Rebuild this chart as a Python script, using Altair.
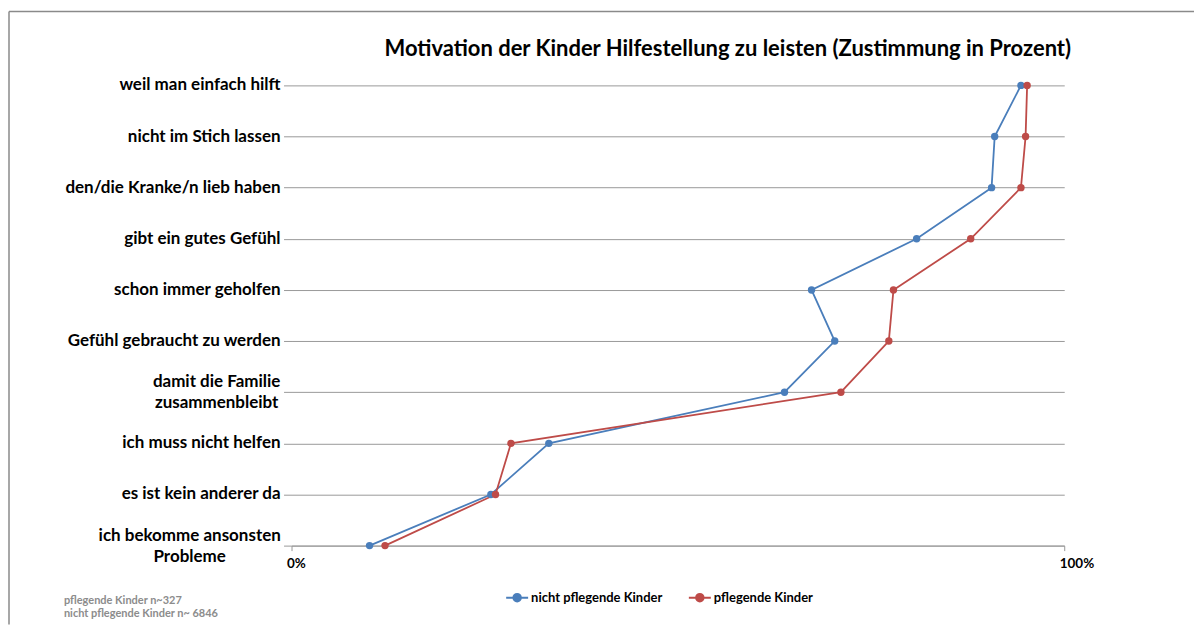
import altair as alt
import pandas as pd

title_text = "Motivation der Kinder Hilfestellung zu leisten (Zustimmung in Prozent)"
categories = [
    "weil man einfach hilft",
    "nicht im Stich lassen",
    "den/die Kranke/n lieb haben",
    "gibt ein gutes Gefühl",
    "schon immer geholfen",
    "Gefühl gebraucht zu werden",
    "damit die Familie zusammenbleibt",
    "ich muss nicht helfen",
    "es ist kein anderer da",
    "ich bekomme ansonsten Probleme",
]
label_lines = [
    "weil man einfach hilft",
    "nicht im Stich lassen",
    "den/die Kranke/n lieb haben",
    "gibt ein gutes Gefühl",
    "schon immer geholfen",
    "Gefühl gebraucht zu werden",
    "damit die Familie\nzusammenbleibt",
    "ich muss nicht helfen",
    "es ist kein anderer da",
    "ich bekomme ansonsten\nProbleme",
]
series_names = ["nicht pflegende Kinder", "pflegende Kinder"]
nicht_pflegende = [94.4, 91.0, 90.6, 80.9, 67.3, 70.3, 63.8, 33.3, 25.8, 10.1]
pflegende = [95.2, 95.0, 94.4, 87.9, 77.9, 77.3, 71.1, 28.4, 26.4, 12.1]
x_ticks = [0, 100]
footnote_lines = ["pflegende Kinder n~327", "nicht pflegende Kinder n~ 6846"]
colors = ["#4A7EBB", "#BE4B48"]

rows = []
for i, c in enumerate(categories):
    rows.append({"category": c, "series": series_names[0], "value": nicht_pflegende[i], "idx": i})
    rows.append({"category": c, "series": series_names[1], "value": pflegende[i], "idx": i})
df = pd.DataFrame(rows)
labels_df = pd.DataFrame({"category": categories, "label": label_lines})

FONT = "Lato"
W, H = 774, 461
LABEL_SIZE = 17

y_enc = alt.Y(
    "category:N",
    sort=categories,
    scale=alt.Scale(padding=0),
    axis=alt.Axis(
        title=None, labels=False, domain=False, ticks=True, tickSize=8,
        tickColor="#999999", grid=True, gridColor="#999999", gridWidth=1,
    ),
)
x_enc = alt.X(
    "value:Q",
    scale=alt.Scale(domain=[0, 100], nice=False),
    axis=alt.Axis(
        title=None, values=x_ticks, labelExpr="datum.value + '%'", grid=False,
        domainColor="#999999", tickColor="#999999", tickSize=5,
        labelFont=FONT, labelFontSize=13.5, labelFontWeight="bold", labelColor="#000000",
        labelAlign="left", labelOffset=-5, labelPadding=6, labelFlush=False,
    ),
)
symbol_path = "M-1,0L1,0M0.34,0A0.34,0.34,0,1,1,-0.34,0A0.34,0.34,0,1,1,0.34,0Z"
color_enc = alt.Color(
    "series:N",
    scale=alt.Scale(domain=series_names, range=colors),
    legend=alt.Legend(
        title=None, orient="none", legendX=214, legendY=501, direction="horizontal",
        symbolType=symbol_path, symbolSize=484, symbolStrokeWidth=2,
        labelFont=FONT, labelFontSize=13, labelFontWeight="bold", labelColor="#000000",
        labelOffset=2, columnPadding=22,
    ),
)

base = alt.Chart(df)
lines = base.mark_line(strokeWidth=1.8).encode(
    x=x_enc, y=y_enc, color=color_enc, order=alt.Order("idx:Q")
)
points = base.mark_point(filled=True, size=55, opacity=1).encode(
    x=x_enc, y=y_enc, color=color_enc
)

lab_base = alt.Chart(labels_df).transform_calculate(
    lines="split(datum.label, '\\n')", n="length(split(datum.label, '\\n'))"
)
single_labels = lab_base.transform_filter("datum.n == 1").mark_text(
    align="right", baseline="middle", font=FONT, fontSize=LABEL_SIZE, fontWeight="bold",
    color="#000000"
).encode(y=alt.Y("category:N", sort=categories), x=alt.value(-11), text="label:N")


def multi_label(cat, center_x):
    return lab_base.transform_filter(alt.datum.category == cat).mark_text(
        align="center", baseline="middle", font=FONT, fontSize=LABEL_SIZE, fontWeight="bold",
        color="#000000", lineHeight=21, dy=-10
    ).encode(y=alt.Y("category:N", sort=categories), x=alt.value(center_x), text="lines:N")


multi_1 = multi_label(categories[6], -75)
multi_2 = multi_label(categories[9], -102)

blank = alt.Data(values=[{"k": 1}])
title_mark = alt.Chart(blank).mark_text(
    align="center", baseline="middle", font=FONT, fontSize=22, fontWeight="bold", color="#000000"
).encode(x=alt.value(437), y=alt.value(-36), text=alt.value(title_text))

footnote = alt.Chart(blank).mark_text(
    align="left", baseline="middle", font=FONT, fontSize=11, fontWeight="bold",
    color="#8C8C8C", lineHeight=14
).encode(x=alt.value(-228), y=alt.value(516), text=alt.value(footnote_lines))

frame_top = alt.Chart(blank).mark_rule(color="#8A8A8A", strokeWidth=1.5).encode(
    x=alt.value(-283), x2=alt.value(904), y=alt.value(-74)
)
frame_left = alt.Chart(blank).mark_rule(color="#8A8A8A", strokeWidth=1.5).encode(
    x=alt.value(-283), y=alt.value(-74), y2=alt.value(540)
)

chart = alt.layer(
    frame_top, frame_left, lines, points, single_labels, multi_1, multi_2, title_mark, footnote
).properties(
    width=W, height=H,
    padding={"left": 0, "top": 2, "right": 0, "bottom": 0},
).configure_view(stroke=None)

chart.save("out.html", embed_options={"renderer": "svg", "actions": False})
